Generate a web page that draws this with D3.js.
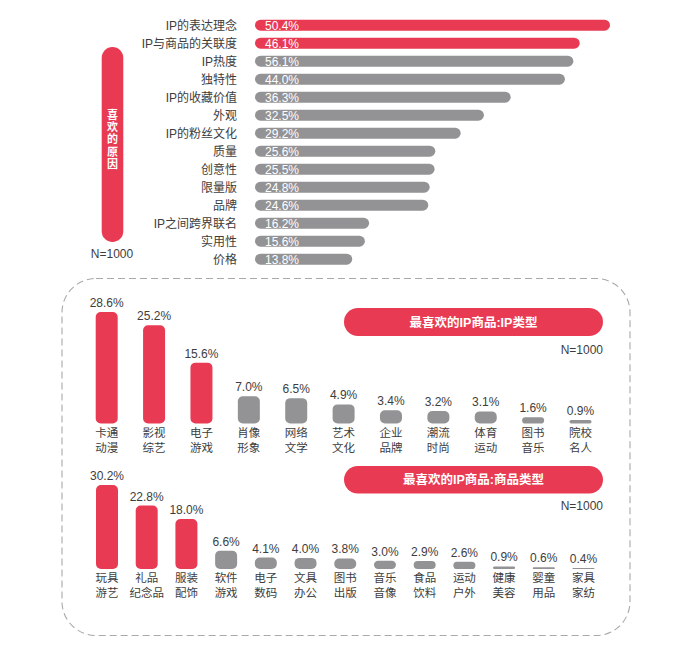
<!DOCTYPE html>
<html><head><meta charset="utf-8">
<script src="https://cdn.jsdelivr.net/npm/d3@7/dist/d3.min.js"></script>
<style>
html,body{margin:0;padding:0;background:#fff;}
svg{display:block;font-family:"Liberation Sans","Noto Sans CJK SC",sans-serif;}
</style></head><body>
<svg id="c" width="700" height="655"></svg>
<script>
// ---- data ----
const reasonCats = ["IP的表达理念","IP与商品的关联度","IP热度","独特性","IP的收藏价值","外观","IP的粉丝文化","质量","创意性","限量版","品牌","IP之间跨界联名","实用性","价格"];
// bar lengths (the 3rd bar is drawn at ~45.2 although labelled 56.1%)
const reasonValues = [50.4,46.1,45.2,44.0,36.3,32.5,29.2,25.6,25.5,24.8,24.6,16.2,15.6,13.8];
const reasonLabels = ["50.4%","46.1%","56.1%","44.0%","36.3%","32.5%","29.2%","25.6%","25.5%","24.8%","24.6%","16.2%","15.6%","13.8%"];
const reasonHighlight = 2;

const ipCats = [["卡通","动漫"],["影视","综艺"],["电子","游戏"],["肖像","形象"],["网络","文学"],["艺术","文化"],["企业","品牌"],["潮流","时尚"],["体育","运动"],["图书","音乐"],["院校","名人"]];
const ipValues = [28.6,25.2,15.6,7.0,6.5,4.9,3.4,3.2,3.1,1.6,0.9];

const goodsCats = [["玩具","游艺"],["礼品","纪念品"],["服装","配饰"],["软件","游戏"],["电子","数码"],["文具","办公"],["图书","出版"],["音乐","音像"],["食品","饮料"],["运动","户外"],["健康","美容"],["婴童","用品"],["家具","家纺"]];
const goodsValues = [30.2,22.8,18.0,6.6,4.1,4.0,3.8,3.0,2.9,2.6,0.9,0.6,0.4];
const topHighlight = 3;

const titles = {reason:"喜欢的原因", ip:"最喜欢的IP商品:IP类型", goods:"最喜欢的IP商品:商品类型", n:"N=1000"};

// ---- styles ----
const RED = "#e93a53", GRAY = "#939396", TXT = "#3d3d3d";
const svg = d3.select("#c");

// ---- top horizontal bar chart ----
const y = d3.scalePoint().domain(d3.range(reasonCats.length)).range([25.2, 259.2]);
const x = d3.scaleLinear().domain([0, 50.4]).range([255, 610]);
const bh = 11;
const gTop = svg.append("g");
gTop.selectAll("rect.r").data(reasonValues).join("rect")
  .attr("x", x(0)).attr("y", (d,i)=>y(i)-bh/2)
  .attr("width", d=>x(d)-x(0)).attr("height", bh)
  .attr("rx", bh/2).attr("fill", (d,i)=> i<reasonHighlight?RED:GRAY);
gTop.selectAll("text.v").data(reasonLabels).join("text")
  .attr("x", x(0)+10).attr("y", (d,i)=>y(i)).attr("dy","0.36em")
  .attr("font-size", 12).attr("fill","#fff").text(d=>d);
gTop.selectAll("text.c").data(reasonCats).join("text")
  .attr("x", 237).attr("y", (d,i)=>y(i)).attr("dy","0.36em")
  .attr("text-anchor","end").attr("font-size", 12).attr("fill", TXT).text(d=>d);
// vertical pill
gTop.append("rect").attr("x",101.7).attr("y",47).attr("width",21.6).attr("height",195)
  .attr("rx",10.8).attr("fill",RED);
gTop.selectAll("text.p").data(titles.reason.split("")).join("text")
  .attr("x",112.5).attr("y",(d,i)=>115+i*12.2).attr("dy","0.36em")
  .attr("text-anchor","middle").attr("font-size",11).attr("font-weight","bold")
  .attr("fill","#fff").text(d=>d);
gTop.append("text").attr("x",112).attr("y",253.5).attr("dy","0.36em")
  .attr("text-anchor","middle").attr("font-size",12).attr("fill",TXT).text(titles.n);

// ---- dashed frame ----
svg.append("rect").attr("x",62).attr("y",278.5).attr("width",568).attr("height",357)
  .attr("rx",34).attr("fill","none").attr("stroke","#a9a9a9").attr("stroke-width",1.1)
  .attr("stroke-dasharray","7,4");

// ---- column panels ----
function panel(cats, vals, x0, x1, base, pxPer, pill) {
  const g = svg.append("g");
  const xs = d3.scalePoint().domain(d3.range(cats.length)).range([x0, x1]);
  const maxV = d3.max(vals);
  const ys = d3.scaleLinear().domain([0, maxV]).range([base, base - maxV*pxPer]);
  const bw = 22;
  g.selectAll("rect.b").data(vals).join("rect")
    .attr("x",(d,i)=>xs(i)-bw/2).attr("y",d=>ys(d))
    .attr("width",bw).attr("height",d=>base-ys(d))
    .attr("rx",d=>Math.min(5,(base-ys(d))/2))
    .attr("fill",(d,i)=> i<topHighlight?RED:GRAY);
  g.selectAll("text.v").data(vals).join("text")
    .attr("x",(d,i)=>xs(i)).attr("y",d=>ys(d)-5)
    .attr("text-anchor","middle").attr("font-size",12).attr("fill",TXT)
    .text(d=>d.toFixed(1)+"%");
  cats.forEach((c,i)=>{
    c.forEach((s,j)=>{
      g.append("text").attr("x",xs(i)).attr("y",base+9+j*15).attr("dy","0.36em")
        .attr("text-anchor","middle").attr("font-size",11.5).attr("fill",TXT).text(s);
    });
  });
  g.append("rect").attr("x",344).attr("y",pill.y).attr("width",259).attr("height",pill.h)
    .attr("rx",pill.h/2).attr("fill",RED);
  g.append("text").attr("x",473.5).attr("y",pill.y+pill.h/2).attr("dy","0.36em")
    .attr("text-anchor","middle").attr("font-size",12.5).attr("font-weight","bold")
    .attr("fill","#fff").text(pill.t);
  g.append("text").attr("x",603).attr("y",pill.ny).attr("dy","0.36em")
    .attr("text-anchor","end").attr("font-size",12).attr("fill",TXT).text(titles.n);
}
panel(ipCats, ipValues, 106.7, 580.5, 423.5, 3.9, {y:308,h:28,t:titles.ip,ny:349.5});
panel(goodsCats, goodsValues, 107, 583.5, 569, 2.78, {y:466,h:27.5,t:titles.goods,ny:506});
</script>
</body></html>
